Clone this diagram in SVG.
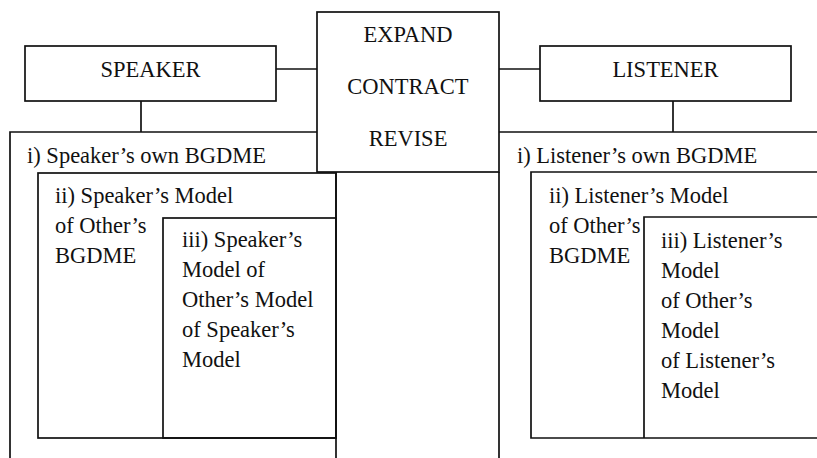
<svg xmlns="http://www.w3.org/2000/svg" width="817" height="458" viewBox="0 0 817 458" font-family="'Liberation Serif', 'Times New Roman', Times, 'DejaVu Serif', serif">
<style>
.b{fill:none;stroke:#111;stroke-width:1.7}
.t{font-family:'Liberation Serif', Tinos, 'Times New Roman', Times, 'DejaVu Serif', serif;font-size:22.5px;fill:#111}
.c{text-anchor:middle}
</style>
<rect width="817" height="458" fill="#fff"/>
<g id="connectors" class="b">
<line x1="276" y1="69" x2="317" y2="69"/>
<line x1="499" y1="69" x2="540" y2="69"/>
<line x1="141" y1="101" x2="141" y2="132"/>
<line x1="673" y1="101" x2="673" y2="132"/>
</g>
<g id="speaker">
<rect class="b" x="25" y="46" width="251" height="55"/>
<text class="t c" x="150.5" y="77">SPEAKER</text>
</g>
<g id="operations">
<rect class="b" x="317" y="12" width="182" height="160"/>
<text class="t c" x="408" y="42">EXPAND</text>
<text class="t c" x="408" y="94">CONTRACT</text>
<text class="t c" x="408" y="146">REVISE</text>
</g>
<g id="listener">
<rect class="b" x="540" y="46" width="251" height="55"/>
<text class="t c" x="665.5" y="77">LISTENER</text>
</g>
<g id="speaker-own">
<path class="b" d="M10,460 V132 H317 M336,172 V460"/>
<text class="t" x="27" y="163">i) Speaker’s own BGDME</text>
</g>
<g id="speaker-model">
<rect class="b" x="38" y="173" width="298" height="265"/>
<text class="t" x="55" y="203">ii) Speaker’s Model</text>
<text class="t" x="55" y="233">of Other’s</text>
<text class="t" x="55" y="263">BGDME</text>
</g>
<g id="speaker-model-2">
<rect class="b" x="163" y="218" width="173" height="220"/>
<text class="t" x="182" y="247">iii) Speaker’s</text>
<text class="t" x="182" y="277">Model of</text>
<text class="t" x="182" y="307">Other’s Model</text>
<text class="t" x="182" y="337">of Speaker’s</text>
<text class="t" x="182" y="367">Model</text>
</g>
<g id="listener-own">
<path class="b" d="M499,172 V460 M499,132 H820"/>
<text class="t" x="517" y="163">i) Listener’s own BGDME</text>
</g>
<g id="listener-model">
<path class="b" d="M820,172 H531 V438 H820"/>
<text class="t" x="549" y="203">ii) Listener’s Model</text>
<text class="t" x="549" y="233">of Other’s</text>
<text class="t" x="549" y="263">BGDME</text>
</g>
<g id="listener-model-2">
<path class="b" d="M820,217 H644 V438"/>
<text class="t" x="661" y="248">iii) Listener’s</text>
<text class="t" x="661" y="278">Model</text>
<text class="t" x="661" y="308">of Other’s</text>
<text class="t" x="661" y="338">Model</text>
<text class="t" x="661" y="368">of Listener’s</text>
<text class="t" x="661" y="398">Model</text>
</g>
</svg>
